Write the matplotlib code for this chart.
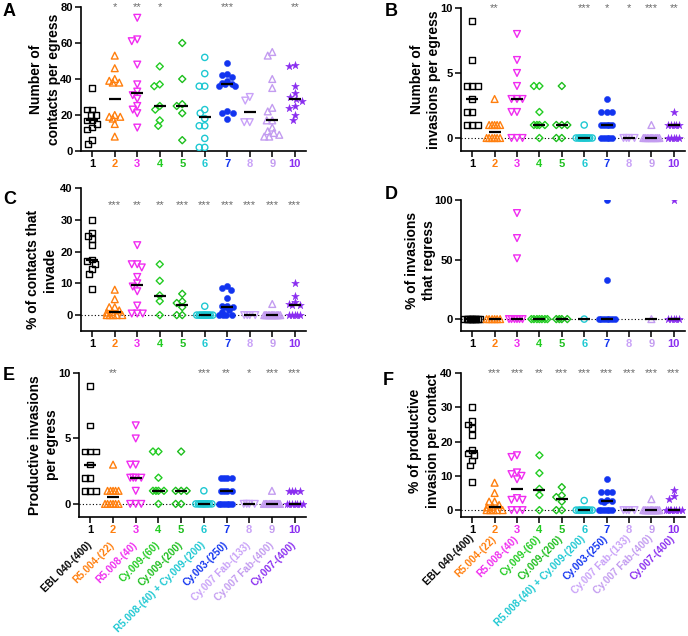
import matplotlib
matplotlib.use("Agg")
import matplotlib.pyplot as plt
import matplotlib.transforms as mtransforms
import numpy as np

plt.rcParams['font.family'] = ['Liberation Sans', 'DejaVu Sans']
plt.rcParams['font.weight'] = 'bold'
plt.rcParams['axes.labelweight'] = 'bold'

# groups / treatments
groups = ["1", "2", "3", "4", "5", "6", "7", "8", "9", "10"]
drugs = ["EBL 040-(400)", "R5.004-(22)", "R5.008-(40)", "Cy.009-(60)", "Cy.009-(200)",
         "R5.008-(40) + Cy.009-(200)", "Cy.003-(250)", "Cy.007 Fab-(133)",
         "Cy.007 Fab-(400)", "Cy.007-(400)"]
colors = ["#000000", "#FF7F0E", "#F02CF0", "#22CC22", "#1DBE1D", "#1EC8D2",
          "#1234F0", "#C9A2F8", "#C39CF0", "#8A2EF0"]
markers = ['s', '^', 'v', 'D', 'D', 'o', 'o', 'v', '^', '*']
filled = [False, False, False, False, False, False, True, False, False, True]

# A: number of contacts per egress
a_vals = [[35, 23, 23, 20, 20, 17, 17, 15, 13, 12, 6, 4],
          [53, 46, 40, 39, 38, 38, 20, 19, 19, 18, 15, 8],
          [74, 62, 61, 48, 37, 33, 31, 29, 25, 23, 21, 13],
          [47, 37, 36, 25, 23, 17, 14],
          [60, 40, 26, 25, 21, 6],
          [52, 43, 36, 36, 23, 21, 18, 14, 14, 7, 2, 2],
          [49, 43, 42, 41, 39, 38, 37, 37, 36, 36, 22, 21, 21, 18],
          [30, 28, 16, 16],
          [55, 53, 40, 35, 24, 22, 17, 17, 13, 11, 10, 9, 8, 8],
          [48, 47, 36, 32, 30, 29, 28, 25, 24, 20, 17]]
a_med = [17, 29, 32, 25, 25, 19, 37, 21.5, 17, 29]
a_stars = ["", "*", "**", "*", "", "", "***", "", "", "**"]

# B: number of invasions per egress
b_vals = [[9, 6, 4, 4, 4, 3, 2, 2, 1, 1, 1],
          [3, 1, 1, 1, 1, 1, 0, 0, 0, 0, 0, 0],
          [8, 6, 5, 4, 3, 3, 3, 2, 2, 0, 0, 0],
          [4, 4, 2, 1, 1, 1, 1, 0],
          [4, 1, 1, 1, 0, 0],
          [1, 0, 0, 0, 0, 0, 0, 0, 0, 0, 0, 0],
          [3, 2, 2, 2, 1, 1, 1, 1, 1, 0, 0, 0, 0, 0],
          [0, 0, 0, 0],
          [1, 0, 0, 0, 0, 0, 0, 0, 0, 0, 0, 0, 0, 0],
          [2, 1, 1, 1, 1, 1, 0, 0, 0, 0, 0]]
b_med = [3, 0.5, 3, 1, 1, 0, 1, 0, 0, 1]
b_stars = ["", "**", "", "", "", "***", "*", "*", "***", "**"]

# C: % of contacts that invade
c_vals = [[30, 26, 25, 24, 22, 17.5, 17, 16, 14.5, 13, 8.3],
          [8, 5, 2.5, 2.5, 1.5, 1, 0.8, 0, 0, 0, 0, 0],
          [22, 16, 16, 15, 12, 10, 9, 7.5, 3, 0.5, 0.5, 0.5],
          [16, 10.8, 6.2, 4.4, 0],
          [6.7, 4.3, 3.8, 2.5, 0, 0],
          [2.8, 0, 0, 0, 0, 0, 0, 0, 0, 0, 0, 0],
          [9.2, 8.6, 8, 5.3, 3, 2.8, 2.7, 2.5, 1.5, 1, 0, 0, 0, 0],
          [0, 0, 0, 0],
          [3.5, 0, 0, 0, 0, 0, 0, 0, 0, 0, 0, 0, 0, 0],
          [10, 6, 4, 3.6, 3.3, 3.2, 0, 0, 0, 0, 0]]
c_med = [17.4, 0.9, 9.5, 5.9, 3.2, 0, 2.6, 0, 0, 3.2]
c_stars = ["", "***", "**", "**", "***", "***", "***", "***", "***", "***"]

# D: % of invasions that regress
d_vals = [[0] * 11,
          [0] * 6,
          [89, 68, 51, 0, 0, 0, 0, 0, 0],
          [0] * 7,
          [0] * 4,
          [0],
          [100, 33, 0, 0, 0, 0, 0, 0, 0],
          [],
          [0],
          [100, 0, 0, 0, 0, 0]]
d_med = [0, 0, 0, 0, 0, 0, 0, np.nan, 0, 0]
d_stars = [""] * 10

# E: productive invasions per egress
e_vals = [[9, 6, 4, 4, 4, 3, 2, 2, 1, 1, 1],
          [3, 1, 1, 1, 1, 1, 0, 0, 0, 0, 0, 0],
          [6, 5, 3, 3, 2, 2, 2, 2, 1, 0, 0, 0],
          [4, 4, 2, 1, 1, 1, 1, 0],
          [4, 1, 1, 1, 0, 0],
          [1, 0, 0, 0, 0, 0, 0, 0, 0, 0, 0, 0],
          [2, 2, 2, 2, 1, 1, 1, 1, 0, 0, 0, 0, 0, 0],
          [0, 0, 0, 0],
          [1, 0, 0, 0, 0, 0, 0, 0, 0, 0, 0, 0, 0, 0],
          [1, 1, 1, 1, 0, 0, 0, 0, 0, 0, 0]]
e_med = [3, 0.5, 2, 1, 1, 0, 1, 0, 0, 0]
e_stars = ["", "**", "", "", "", "***", "**", "*", "***", "***"]

# F: % of productive invasion per contact
f_vals = [[30, 26, 25, 24, 22, 17.5, 16.5, 16, 14.5, 13, 8.3],
          [8, 5, 2.5, 2.5, 1.5, 1, 0.8, 0, 0, 0, 0, 0],
          [16, 15.5, 11, 10.5, 10, 9, 3.5, 3, 3, 0, 0, 0],
          [16, 10.8, 6.2, 4.4, 0],
          [6.7, 4.3, 3.8, 2.5, 0, 0],
          [2.8, 0, 0, 0, 0, 0, 0, 0, 0, 0, 0, 0],
          [9, 5.4, 5.4, 5.2, 3, 2.8, 2.7, 2.5, 0, 0, 0, 0, 0, 0],
          [0, 0, 0, 0],
          [3.2, 0, 0, 0, 0, 0, 0, 0, 0, 0, 0, 0, 0, 0],
          [6, 4, 3.2, 0, 0, 0, 0, 0, 0, 0, 0]]
f_med = [17.3, 1, 6.2, 5.8, 3.2, 0, 2.6, 0, 0, 0]
f_stars = ["", "***", "***", "**", "***", "***", "***", "***", "***", "***"]


W, H = 688, 636
fig = plt.figure(figsize=(W / 100, H / 100), dpi=100)


def box(left, top, width, bottom):
    # pixel box -> figure fraction
    return [left / W, 1 - bottom / H, width / W, (bottom - top) / H]


def swarm(ax, xc, vals, size=5.5, half=8.0):
    # spread points sideways (in pixels) so equal values don't sit on top of each other
    if len(vals) == 0:
        return np.array([])
    pts = ax.transData.transform(np.column_stack([np.full(len(vals), xc), vals]))
    cands = np.arange(-half, half + 0.01, 0.5)
    cands = cands[np.argsort(np.abs(cands), kind='stable')]
    placed = []
    for px, py in pts:
        best, best_d = 0.0, -1.0
        for c in cands:
            if placed:
                d = min(np.hypot(px + c - qx, py - qy) for qx, qy in placed)
            else:
                d = np.inf
            if d >= size:
                best = c
                break
            if d > best_d + 1e-9:
                best, best_d = c, d
        placed.append((px + best, py))
    return ax.transData.inverted().transform(np.array(placed))[:, 0]


msize = {'s': 17, '^': 24, 'v': 24, 'D': 13, 'o': 20, '*': 34}

panels = [
    ("A", box(81, 7, 225, 151), (0, 80), [0, 20, 40, 60, 80], a_vals, a_med, a_stars, 1.0,
     "Number of\ncontacts per egress", -0.16, 0.5, False, False),
    ("B", box(461, 8, 224, 151), (-1, 10), [0, 5, 10], b_vals, b_med, b_stars, 1.0,
     "Number of\ninvasions per egress", -0.16, 0.5, True, False),
    ("C", box(81, 188, 225, 331), (-5, 40), [0, 10, 20, 30, 40], c_vals, c_med, c_stars, 0.88,
     "% of contacts that\ninvade", -0.175, 0.43, True, False),
    ("D", box(461, 200, 224, 331), (-10, 100), [0, 50, 100], d_vals, d_med, d_stars, 1.0,
     "% of invasions\nthat regress", -0.18, 0.54, True, False),
    ("E", box(79, 373, 227, 517), (-1, 10), [0, 5, 10], e_vals, e_med, e_stars, 1.0,
     "Productive invasions\nper egress", -0.155, 0.5, True, True),
    ("F", box(461, 373, 224, 517), (-2, 40), [0, 10, 20, 30, 40], f_vals, f_med, f_stars, 1.0,
     "% of productive\ninvasion per contact", -0.165, 0.53, True, True),
]

letter_pos = {"A": (3, 3), "B": (385, 3), "C": (3, 191), "D": (385, 186),
              "E": (3, 367), "F": (383, 372)}
name_y = {"E": -0.16, "F": -0.115}

for (letter, pos, ylim, yticks, vals, meds, stars, star_y,
     ylabel, lab_x, lab_y, zero_line, names) in panels:
    ax = fig.add_axes(pos)
    ax.set_xlim(0.5, 10.5)
    ax.set_ylim(*ylim)
    ax.set_yticks(yticks)
    ax.set_xticks(range(1, 11))
    ax.set_xticklabels(groups)
    for lab, col in zip(ax.get_xticklabels(), colors):
        lab.set_color(col)
    ax.tick_params(axis='both', labelsize=8, width=1.1, length=4, direction='out', pad=2)
    for side in ['top', 'right']:
        ax.spines[side].set_visible(False)
    for side in ['left', 'bottom']:
        ax.spines[side].set_linewidth(1.2)

    if zero_line:
        ax.axhline(0, color='black', lw=0.8, ls=(0, (1, 2)), zorder=0)

    for i in range(10):
        xc = i + 1
        v = np.array(vals[i], dtype=float)
        if len(v):
            xs = swarm(ax, xc, v)
            if filled[i]:
                ax.scatter(xs, v, s=msize[markers[i]], marker=markers[i], color=colors[i],
                           linewidths=0.3, zorder=3)
            else:
                ax.scatter(xs, v, s=msize[markers[i]], marker=markers[i], facecolors='none',
                           edgecolors=colors[i], linewidths=1.0, zorder=3)
        if not np.isnan(meds[i]):
            ax.plot([xc - 0.27, xc + 0.27], [meds[i], meds[i]], color='black', lw=1.6,
                    zorder=5, solid_capstyle='butt')
        if stars[i]:
            ax.text(xc, star_y, stars[i], transform=ax.get_xaxis_transform(), ha='center',
                    va='center', fontsize=8, color='#6a6a6a', fontweight='normal')

    ax.text(lab_x, lab_y, ylabel, transform=ax.transAxes, rotation=90, ha='center',
            va='center', fontsize=10, fontweight='bold', linespacing=1.3,
            multialignment='center')

    if names:
        trans = mtransforms.blended_transform_factory(ax.transData, ax.transAxes)
        for i in range(10):
            ax.text(i + 1 + 0.15, name_y[letter], drugs[i], transform=trans, rotation=45,
                    ha='right', va='top', fontsize=7.2, fontweight='bold', color=colors[i])

    lx, ly = letter_pos[letter]
    fig.text(lx / W, 1 - ly / H, letter, ha='left', va='top', fontsize=13, fontweight='bold')

fig.savefig("out.png", dpi=100)
